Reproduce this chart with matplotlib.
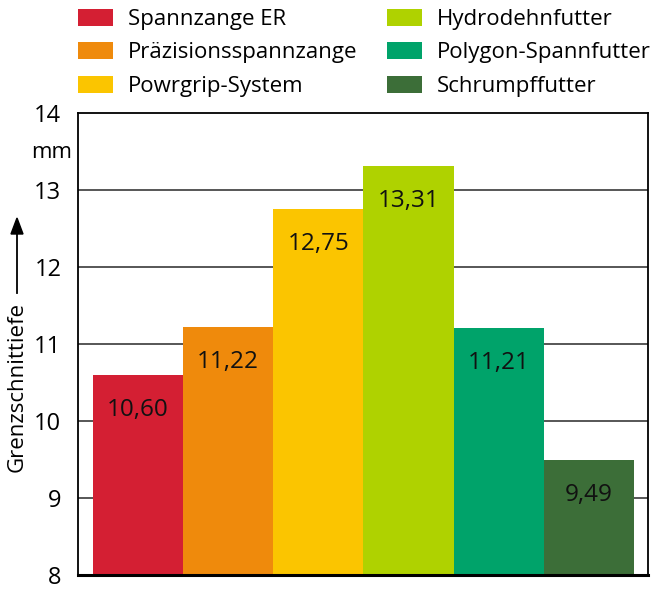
import matplotlib.pyplot as plt
from matplotlib.patches import Patch

plt.rcParams['font.family'] = ['Open Sans', 'DejaVu Sans']

# Data
labels = ['Spannzange ER', 'Präzisionsspannzange', 'Powrgrip-System',
          'Hydrodehnfutter', 'Polygon-Spannfutter', 'Schrumpffutter']
values = [10.60, 11.22, 12.75, 13.31, 11.21, 9.49]
colors = ['#d41f33', '#ef8a0c', '#fbc500', '#afd200', '#00a36a', '#3c6e38']
yticks = [8, 9, 10, 11, 12, 13, 14]

fig = plt.figure(figsize=(6.54, 6.0), dpi=100)
ax = fig.add_axes([78 / 654, 25 / 600, 570 / 654, 462 / 600])

x = list(range(len(values)))
ax.bar(x, values, width=1.0, color=colors, zorder=2)
ax.set_xlim(-0.665, 5.655)
ax.set_ylim(8, 14)

# grid lines behind bars
for t in yticks[1:-1]:
    ax.axhline(t, color='#3a3a3a', lw=1.2, zorder=1)

ax.set_yticks(yticks)
ax.set_yticklabels([str(t) for t in yticks], fontsize=17)
ax.tick_params(axis='y', length=0, pad=12)
ax.set_xticks([])
for s in ax.spines.values():
    s.set_color('black')
    s.set_linewidth(1.3)
ax.spines['bottom'].set_linewidth(2.2)

# value labels inside bars
for xi, v in zip(x, values):
    ax.annotate(f'{v:.2f}'.replace('.', ','), (xi, v), xytext=(0, -25),
                textcoords='offset points', ha='center', va='center',
                fontsize=17.5, color='#111111', zorder=3)

# unit and axis title with arrow
fig.text(72 / 654, 1 - 152 / 600, 'mm', ha='right', va='center', fontsize=16)
fig.text(17 / 654, 1 - 387 / 600, 'Grenzschnittiefe', rotation=90,
         ha='center', va='center', fontsize=16)
fig.add_artist(plt.Line2D([17 / 654, 17 / 654], [1 - 293 / 600, 1 - 232 / 600],
                          color='black', lw=1.3))
fig.patches.append(plt.Polygon([[11 / 654, 1 - 234 / 600], [23 / 654, 1 - 234 / 600],
                                [17 / 654, 1 - 218 / 600]], closed=True,
                               color='black', transform=fig.transFigure, figure=fig))

# legend
handles = [Patch(facecolor=c, edgecolor='none') for c in colors]
fig.legend(handles, labels, ncol=2, loc='upper left',
           bbox_to_anchor=(78 / 654, 1 - 9 / 600), frameon=False,
           fontsize=16, handlelength=1.58, handleheight=0.77,
           handletextpad=0.68, columnspacing=1.3, labelspacing=0.56,
           borderaxespad=0, borderpad=0)

fig.savefig('out.png', dpi=100)
